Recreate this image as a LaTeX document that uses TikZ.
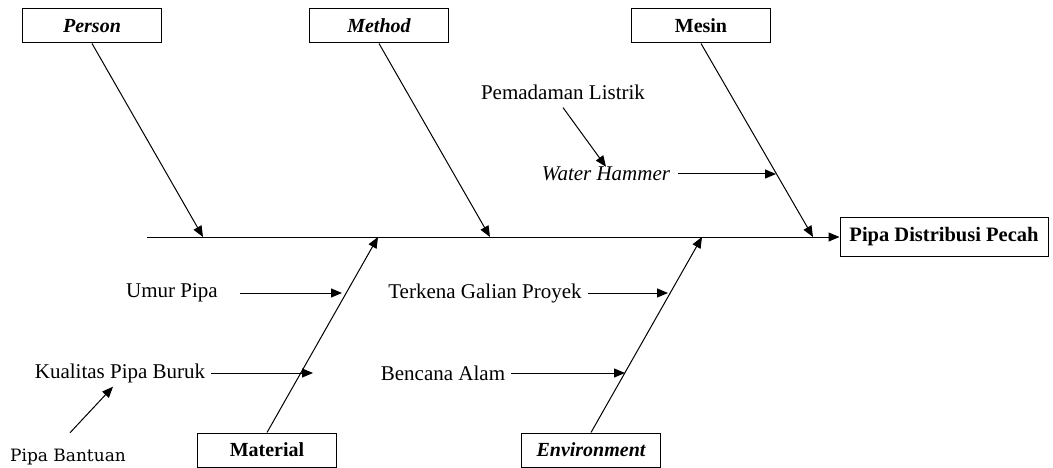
\documentclass[tikz,border=0pt]{standalone}
\usepackage{fontspec}
\setmainfont{Liberation Serif}
\newfontfamily\labelfont{DejaVu Serif}
\usetikzlibrary{arrows.meta,positioning}

\begin{document}
\begin{tikzpicture}[x=1pt, y=-1pt,
  cat/.style={draw, black, line width=1pt, minimum width=139pt, minimum height=34pt, inner sep=0pt, font=\fontsize{20}{24}\selectfont\bfseries},
  effectbox/.style={draw, black, line width=1pt, minimum width=208pt, minimum height=38pt, inner sep=0pt, font=\fontsize{20.5}{24}\selectfont\bfseries},
  cause/.style={inner sep=0pt, font=\fontsize{21}{24}\selectfont},
  bone/.style={black, line width=1pt, -{Triangle[length=11pt,width=9pt]}}]

\useasboundingbox (0,0) rectangle (1053,468);

\node[effectbox] (effect) at (944, 237) {Pipa Distribusi Pecah};

\node[cat] (person)  at ( 92,  26) {\itshape Person};
\node[cat] (method)  at (379,  26) {\itshape Method};
\node[cat] (mesin)   at (701,  26) {Mesin};
\node[cat] (material) at (267, 450) {Material};
\node[cat] (environment) at (591, 450) {\itshape Environment};

\coordinate (tail) at (147, 237);
\coordinate (s1) at (203, 237);
\coordinate (s2) at (490, 237);
\coordinate (s3) at (813, 237);
\coordinate (s4) at (378, 237);
\coordinate (s5) at (702, 237);

\draw[bone] (tail) -- (effect.west);

\draw[bone] (person.south) -- (s1);
\draw[bone] (method.south) -- (s2);
\draw[bone] (mesin.south) -- (s3);
\draw[bone] (material.north) -- (s4);
\draw[bone] (environment.north) -- (s5);

\node[cause] (listrik) at (563,  92) {Pemadaman Listrik};
\node[cause] (hammer)  at (606, 174) {\itshape Water Hammer};
\node[cause] (umur)    at (172, 293) {Umur Pipa};
\node[cause] (kualitas) at (120, 373) {Kualitas Pipa Buruk};
\node[inner sep=0pt, font=\fontsize{17}{20}\selectfont\labelfont] (bantuan) at (68, 457) {Pipa Bantuan};
\node[cause] (galian)  at (485, 293) {Terkena Galian Proyek};
\node[cause] (bencana) at (443, 373) {Bencana Alam};

\coordinate (h1) at (776, 174);
\coordinate (h2) at (342, 293);
\coordinate (h3) at (313, 373);
\coordinate (h4) at (668, 293);
\coordinate (h5) at (625, 373);

\draw[bone] (listrik.south) ++(0,8) -- (hammer.north);
\draw[bone] ([xshift=8pt]hammer.east) -- (h1);
\draw[bone] ([xshift=22pt]umur.east) -- (h2);
\draw[bone] ([xshift=6pt]kualitas.east) -- (h3);
\draw[bone] ([xshift=6pt]galian.east) -- (h4);
\draw[bone] ([xshift=6pt]bencana.east) -- (h5);
\draw[bone] ([shift={(2pt,16pt)}]bantuan.north) -- ([xshift=-7pt,yshift=-4pt]kualitas.south);

\end{tikzpicture}
\end{document}
